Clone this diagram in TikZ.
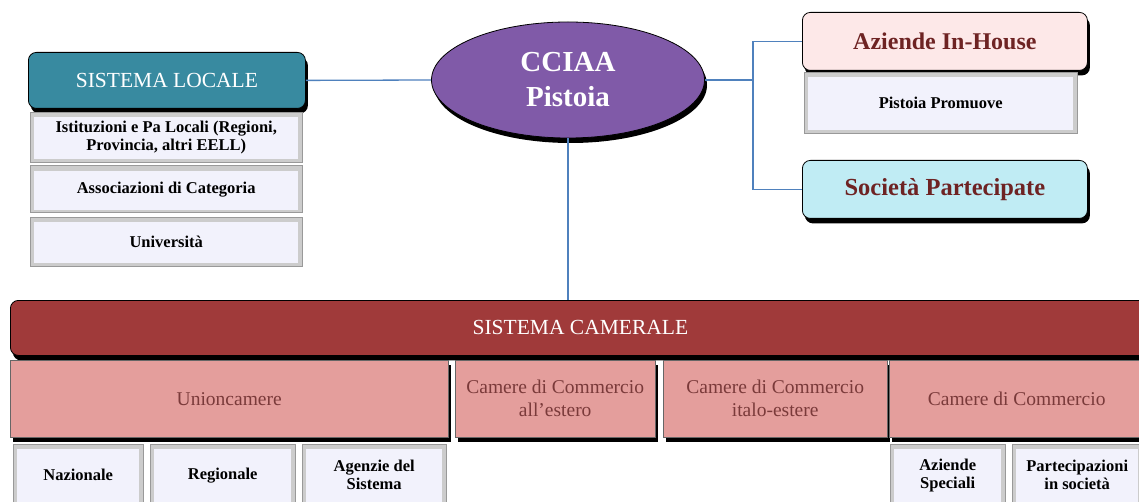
\documentclass[tikz,border=0pt]{standalone}
\usepackage{fontspec}
\setmainfont{Liberation Serif}
\usetikzlibrary{positioning, shadows, shapes.geometric}

\definecolor{locale}{RGB}{56,138,160}
\definecolor{viola}{RGB}{128,90,168}
\definecolor{camerale}{RGB}{160,58,58}
\definecolor{rosa}{RGB}{228,158,156}
\definecolor{rosachiaro}{RGB}{253,232,232}
\definecolor{ciano}{RGB}{192,236,244}
\definecolor{lavanda}{RGB}{242,242,252}
\definecolor{bordeaux}{RGB}{110,35,35}
\definecolor{testorosa}{RGB}{122,58,58}
\definecolor{linea}{RGB}{79,129,189}

\tikzset{
  ombra/.style={drop shadow={shadow xshift=2.5pt, shadow yshift=-5pt, fill=black, opacity=1}},
  testa/.style={rectangle, rounded corners=8pt, draw=black, line width=0.8pt, ombra, anchor=north west, inner sep=0pt, align=center},
  voce/.style={rectangle, draw=gray!80, fill=gray!40, anchor=north west, inner sep=0pt, align=center,
    font=\bfseries\fontsize{16.5}{18}\selectfont,
    path picture={\fill[lavanda] ([shift={(4pt,-5pt)}]path picture bounding box.north west) rectangle ([shift={(-4pt,3pt)}]path picture bounding box.south east);}},
  ramo/.style={rectangle, fill=rosa, draw=black!60, ombra, anchor=north west, inner sep=0pt, align=center, minimum height=77pt,
    text=testorosa, font=\fontsize{19.5}{23}\selectfont},
  link/.style={draw=linea, line width=1.3pt}
}

\begin{document}
\begin{tikzpicture}[x=1pt, y=-1pt]
    \useasboundingbox[fill=white] (0,0) rectangle (1139,502);

    % sistema locale
    \node[testa, fill=locale, text=white, minimum width=277pt, minimum height=56pt, font=\fontsize{21.5}{24}\selectfont] at (28,52) (sl){SISTEMA LOCALE};
    \node[voce, minimum width=272pt, minimum height=50pt] at (30,112) (ist){Istituzioni e Pa Locali (Regioni,\\Provincia, altri EELL)};
    \node[voce, minimum width=272pt, minimum height=47pt, below = 3pt of ist] (asso){Associazioni di Categoria};
    \node[voce, minimum width=272pt, minimum height=49pt, below = 4pt of asso] (uni){Università};

    % camera
    \node[ellipse, fill=viola, draw=black, line width=0.8pt, ombra, minimum width=273pt, minimum height=116pt, text=white, align=center,
        font=\bfseries\fontsize{29}{35}\selectfont] at (568,80) (cciaa){CCIAA\\Pistoia};

    % aziende e societa
    \node[testa, fill=rosachiaro, text=bordeaux, minimum width=285pt, minimum height=58pt, font=\bfseries\fontsize{24}{26}\selectfont] at (802,12) (aih){Aziende In-House};
    \node[voce, minimum width=273pt, minimum height=61pt, font=\bfseries\fontsize{16.5}{18}\selectfont] at (804,72) (pp){Pistoia Promuove};
    \node[testa, fill=ciano, text=bordeaux, minimum width=285pt, minimum height=58pt, font=\bfseries\fontsize{24.5}{26}\selectfont] at (802,160) (soc){Società Partecipate};

    % sistema camerale
    \node[testa, fill=camerale, text=white, minimum width=1140pt, minimum height=55pt, font=\fontsize{21.5}{24}\selectfont] at (10,300) (sc){SISTEMA CAMERALE};
    \node[ramo, minimum width=438pt] at (10,360) (unc){Unioncamere};
    \node[ramo, minimum width=200pt] at (455,360) (est){Camere di Commercio\\all'estero};
    \node[ramo, minimum width=224pt] at (663,360) (ita){Camere di Commercio\\italo-estere};
    \node[ramo, minimum width=255pt] at (889,360) (cdc){Camere di Commercio};

    \node[voce, minimum width=130pt, minimum height=62pt] at (13,444) (naz){Nazionale};
    \node[voce, minimum width=145pt, minimum height=62pt] at (150,444) (reg){Regionale};
    \node[voce, minimum width=144pt, minimum height=62pt] at (302,444) (age){Agenzie del\\Sistema};
    \node[voce, minimum width=115pt, minimum height=62pt] at (890,444) (asp){Aziende\\Speciali};
    \node[voce, minimum width=130pt, minimum height=62pt] at (1012,444) (par){Partecipazioni\\in società};

    % collegamenti
    \coordinate (snodo) at (753,80);
    \draw[link] (sl.east) -- (cciaa.west);
    \draw[link] (cciaa.east) -- (snodo);
    \draw[link] (snodo) |- (aih.west);
    \draw[link] (snodo) |- (soc.west);
    \draw[link] (cciaa.south) -- (cciaa.south |- sc.north);

\end{tikzpicture}
\end{document}
